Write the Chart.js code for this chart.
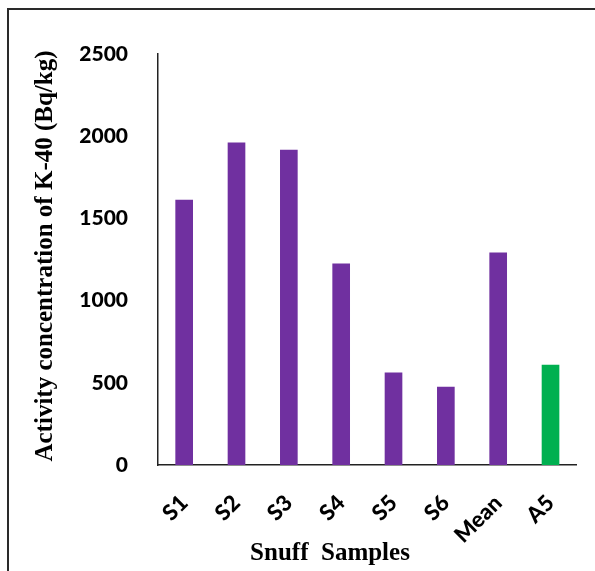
<!DOCTYPE html>
<html>
<head>
<meta charset="utf-8">
<script src="https://cdn.jsdelivr.net/npm/chart.js@4.4.0/dist/chart.umd.min.js"></script>
<style>
    html, body { margin: 0; padding: 0; background: #fff; overflow: hidden; }
    #wrap { position: relative; width: 595px; height: 571px; }
    #frame {
        position: absolute; left: 7px; top: 8px;
        width: 700px; height: 700px;
        border: 2px solid #2a2a2a; box-sizing: border-box;
    }
    canvas { position: absolute; left: 0; top: 0; }
</style>
</head>
<body>
<div id="wrap">
    <div id="frame"></div>
    <canvas id="chart" width="595" height="571"></canvas>
</div>
<script>
// Data
const samples = ['S1', 'S2', 'S3', 'S4', 'S5', 'S6', 'Mean', 'A5'];
const k40Values = [1612, 1959, 1916, 1223, 560, 474, 1290, 608];
const barColors = ['#7030A0', '#7030A0', '#7030A0', '#7030A0', '#7030A0', '#7030A0', '#7030A0', '#00B050'];

const yTitle = 'Activity concentration of K-40 (Bq/kg)';
const xTitle = 'Snuff  Samples';

const tickFont = { family: 'Lato, "Open Sans", sans-serif', size: 21, weight: '900' };

// Axis titles drawn by hand so they sit where the original puts them
const titlesPlugin = {
    id: 'titles',
    afterDraw(chart) {
        const ctx = chart.ctx;
        ctx.save();
        ctx.fillStyle = '#000';
        ctx.font = 'bold 25px "Liberation Serif", "Times New Roman", serif';
        ctx.textAlign = 'center';
        ctx.textBaseline = 'middle';
        ctx.translate(46, 256);
        ctx.rotate(-Math.PI / 2);
        ctx.fillText(yTitle, 0, 0);
        ctx.restore();

        ctx.save();
        ctx.fillStyle = '#000';
        ctx.font = 'bold 25px "Liberation Serif", "Times New Roman", serif';
        ctx.textAlign = 'center';
        ctx.textBaseline = 'middle';
        ctx.fillText(xTitle, 330, 554);
        ctx.restore();
    }
};

new Chart(document.getElementById('chart').getContext('2d'), {
    type: 'bar',
    data: {
        labels: samples,
        datasets: [{
            data: k40Values,
            backgroundColor: barColors,
            barThickness: 17
        }]
    },
    options: {
        responsive: false,
        animation: false,
        layout: { padding: { top: 54, right: 13, left: 0, bottom: 0 } },
        plugins: {
            legend: { display: false },
            tooltip: { enabled: false }
        },
        scales: {
            x: {
                grid: { display: false, drawTicks: false },
                border: { display: true, color: '#222', width: 1.5 },
                ticks: {
                    color: '#000',
                    font: { ...tickFont, size: 22 },
                    minRotation: 45,
                    maxRotation: 45,
                    padding: 25
                },
                afterFit: (scale) => { scale.height = 106; }
            },
            y: {
                min: 0,
                max: 2500,
                grid: { display: false, drawTicks: false },
                border: { display: true, color: '#222', width: 1.5 },
                ticks: {
                    stepSize: 500,
                    color: '#000',
                    font: tickFont,
                    padding: 30,
                    callback: (v) => String(v)
                },
                afterFit: (scale) => { scale.width = 158; }
            }
        }
    },
    plugins: [titlesPlugin]
});
</script>
</body>
</html>
